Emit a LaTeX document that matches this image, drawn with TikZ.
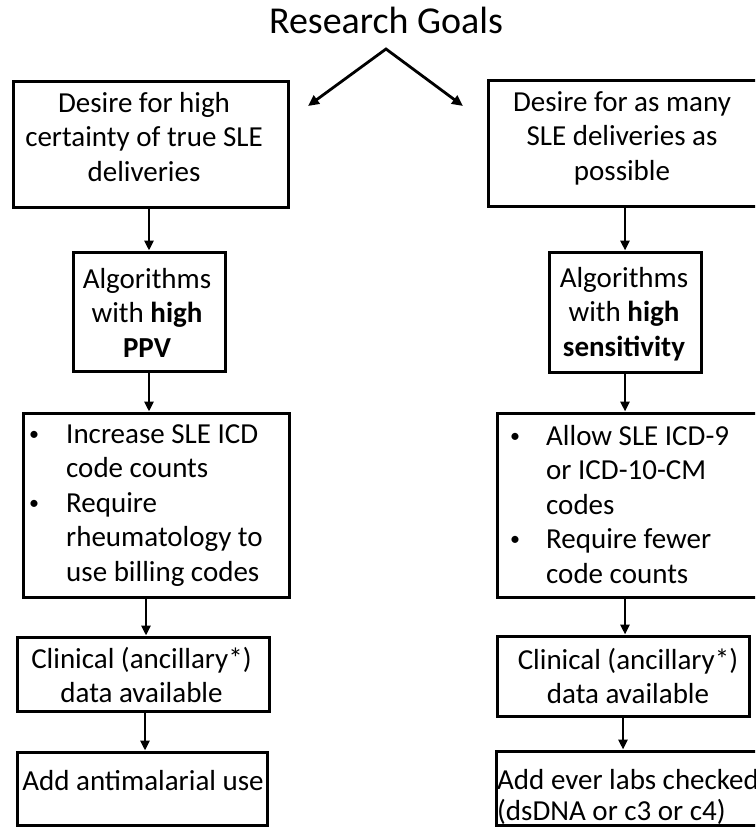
\documentclass[tikz,border=0pt]{standalone}
\usepackage{fontspec}
\setmainfont{Carlito}
\usetikzlibrary{arrows.meta}
\newcommand\boxfont{\fontsize{29}{34.5}\selectfont}
\newcommand\bulmark[1]{\makebox[#1][l]{\hspace*{3pt}\raisebox{3pt}{\fontsize{20}{20}\selectfont •}}}
\tikzset{
  box/.style={draw=black, line width=3pt, inner sep=0pt},
  txt/.style={inner sep=0pt, font=\boxfont, anchor=north, align=center},
  bul/.style={inner sep=0pt, font=\boxfont, anchor=north west, align=left},
  arr/.style={line width=2.6pt, -{Triangle[length=10pt,width=9pt]}},
}
\begin{document}
\begin{tikzpicture}[x=1pt,y=-1pt]
\useasboundingbox (0,0) rectangle (755,827);
\clip (0,0) rectangle (755,827);
\fill[white] (0,0) rectangle (755,827);

% title and split arrows
\node[inner sep=0pt, font=\fontsize{38}{46}\selectfont, anchor=base] (title) at (386,33) {Research Goals};
\coordinate (apex) at (386,49);
\coordinate (lt) at (308,106);
\coordinate (rt) at (463,106);
\draw[line width=2.8pt, line join=miter, {Triangle[length=11pt,width=10pt]}-{Triangle[length=11pt,width=10pt]}] (lt) -- (apex) -- (rt);

% boxes
\node[box, minimum width=275pt, minimum height=126pt] (A) at (150.5,144) {};
\node[box, minimum width=272pt, minimum height=126pt] (B) at (624,143) {};
\node[box, minimum width=152pt, minimum height=119pt] (C) at (149,311.5) {};
\node[box, minimum width=152pt, minimum height=120pt] (G) at (625,312) {};
\node[box, minimum width=266pt, minimum height=184pt] (D) at (156,505) {};
\node[box, minimum width=263pt, minimum height=184pt] (H) at (628.5,505) {};
\node[box, minimum width=252pt, minimum height=74pt] (E) at (143,674) {};
\node[box, minimum width=252pt, minimum height=80pt] (I) at (623,676) {};
\node[box, minimum width=250pt, minimum height=73pt] (F) at (142,788.5) {};
\node[box, minimum width=264pt, minimum height=74pt] (J) at (628,788) {};

% texts
\node[txt] (tA) at (144,87.85) {\strut Desire for high\\certainty of true SLE\\deliveries};
\node[txt] (tB) at (622,86.85) {\strut Desire for as many\\SLE deliveries as\\possible};
\node[txt] (tC) at (147,263.85) {\strut Algorithms\\with \textbf{high}\\\textbf{PPV}};
\node[txt] (tG) at (624,262.85) {\strut Algorithms\\with \textbf{high}\\\textbf{sensitivity}};
\node[bul] (tD) at (26,418.85) {\strut\bulmark{40pt}Increase SLE ICD\\
  \hspace*{40pt}code counts\\
  \bulmark{40pt}Require\\
  \hspace*{40pt}rheumatology to\\
  \hspace*{40pt}use billing codes};
\node[bul] (tH) at (507,420.85) {\strut\bulmark{39pt}Allow SLE ICD-9\\
  \hspace*{39pt}or ICD-10-CM\\
  \hspace*{39pt}codes\\
  \bulmark{39pt}Require fewer\\
  \hspace*{39pt}code counts};
\node[txt] (tE) at (141.5,643.85) {\strut Clinical (ancillary*)\\data available};
\node[txt] (tI) at (628,644.85) {\strut Clinical (ancillary*)\\data available};
\node[txt] (tF) at (143,765.85) {\strut Add antimalarial use};
\node[bul, font=\fontsize{29}{31}\selectfont] (tJ) at (497,767.3) {\strut Add ever labs checked\\(dsDNA or c3 or c4)};

% connectors
\draw[arr] (C.north |- A.south) -- (C.north);
\draw[arr] (C.south) -- (C.south |- D.north);
\draw[arr] ([xshift=3pt]E.north |- D.south) -- ([xshift=3pt]E.north);
\draw[arr] ([xshift=2pt]E.south) -- ([xshift=2pt]E.south |- F.north);
\draw[arr] (G.north |- B.south) -- (G.north);
\draw[arr] (G.south) -- (G.south |- H.north);
\draw[arr] ([xshift=2pt]I.north |- H.south) -- ([xshift=2pt]I.north);
\draw[arr] (I.south) -- (I.south |- J.north);
\end{tikzpicture}
\end{document}
